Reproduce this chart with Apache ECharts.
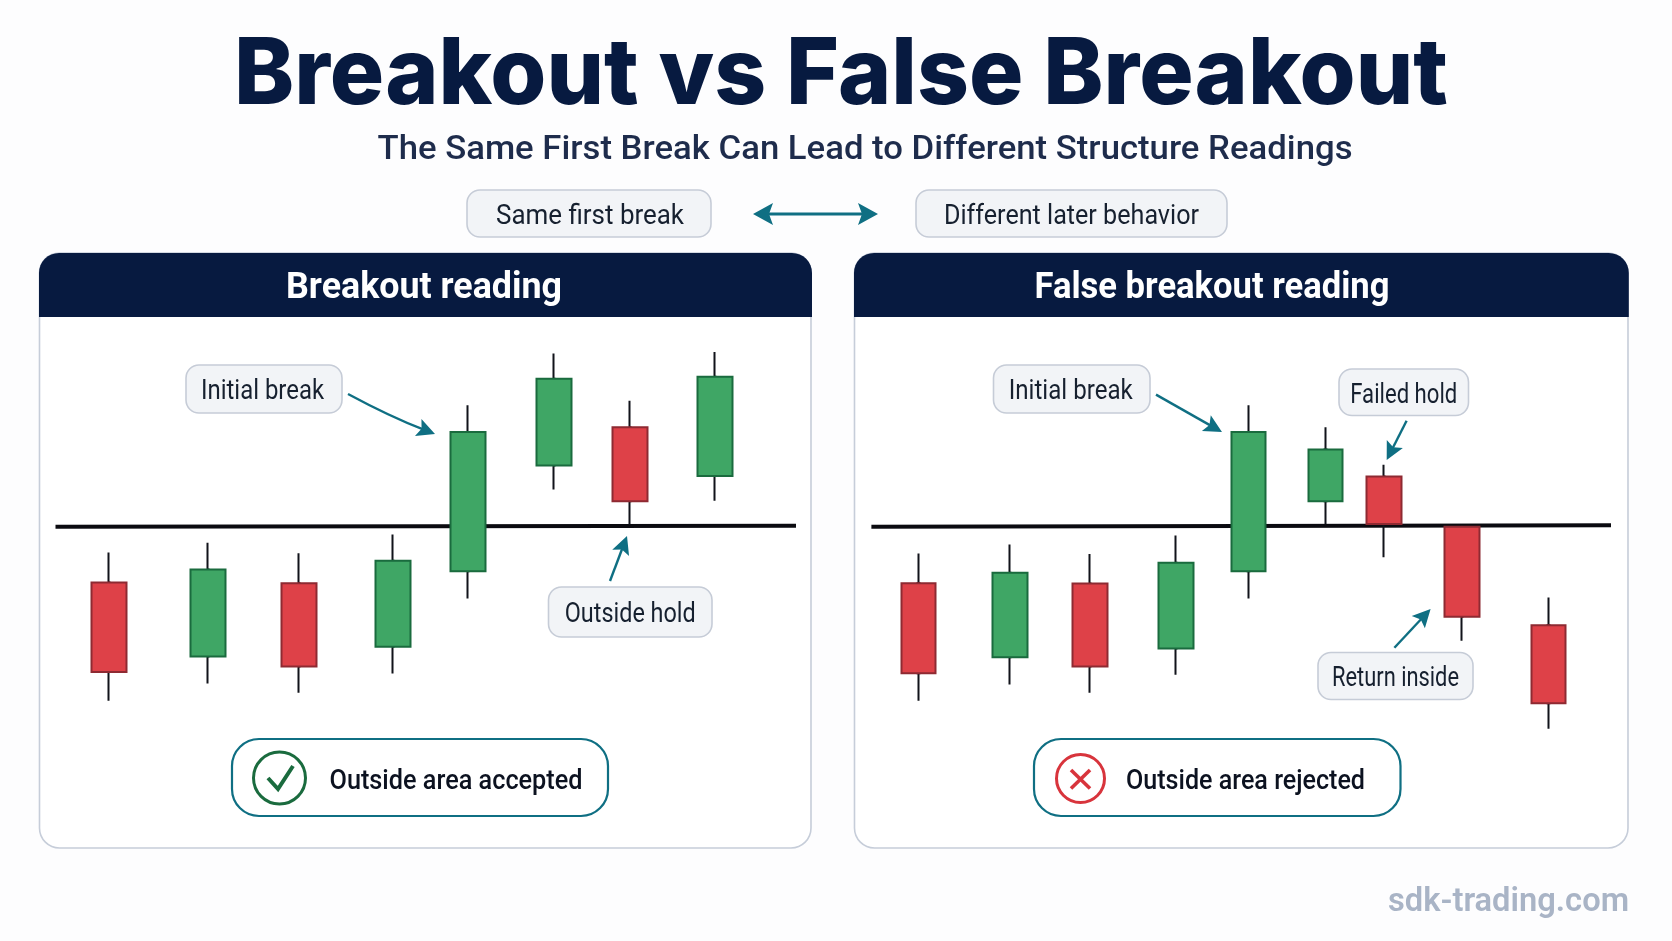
<!DOCTYPE html>
<html>
<head>
<meta charset="utf-8">
<style>html,body{margin:0;padding:0;background:#fdfdfe}#c{width:1672px;height:941px}</style>
<script src="https://cdn.jsdelivr.net/npm/echarts@6/dist/echarts.min.js"></script>
</head>
<body>
<div id="c"></div>
<script>
// ---- Data (time position on x, price on y) ----
const titleText = 'Breakout vs False Breakout';
const subtitleText = 'The Same First Break Can Lead to Different Structure Readings';
const compareLabels = ['Same first break', 'Different later behavior'];
const panelTitles = ['Breakout reading', 'False breakout reading'];
const leftCallouts = ['Initial break', 'Outside hold'];
const rightCallouts = ['Initial break', 'Failed hold', 'Return inside'];
const verdicts = ['Outside area accepted', 'Outside area rejected'];
const watermark = 'sdk-trading.com';

const leftTime  = [6.9, 16.8, 25.9, 35.3, 42.8, 51.4, 59.0, 67.5];
const leftOpen  = [39.4, 20.9, 39.2, 23.3, 42.2, 68.6, 78.2, 66.0];
const leftClose = [17.0, 42.6, 18.4, 44.8, 77.0, 90.3, 59.7, 90.8];
const leftLow   = [9.8, 14.1, 11.8, 16.6, 35.4, 62.6, 53.8, 59.8];
const leftHigh  = [46.9, 49.3, 46.7, 51.4, 83.7, 96.6, 84.8, 97.0];
const leftLevel = [[1.55, 53.3], [75.6, 53.55]];

const rightTime  = [6.64, 15.8, 23.8, 32.4, 39.65, 47.35, 53.2, 61.0, 69.65];
const rightOpen  = [39.2, 20.7, 39.1, 22.9, 42.2, 59.7, 65.9, 53.3, 28.7];
const rightClose = [16.7, 41.8, 18.4, 44.3, 77.0, 72.6, 54.0, 30.8, 9.2];
const rightLow   = [9.8, 13.9, 11.8, 16.3, 35.4, 54.0, 45.7, 24.8, 2.8];
const rightHigh  = [46.6, 48.9, 46.5, 51.1, 83.7, 78.2, 68.8, 53.3, 35.6];
const rightLevel = [[1.94, 53.3], [75.9, 53.7]];

// ---- Palette ----
const NAVY = '#071a40', TEAL = '#0f6f83', GREEN = '#3fa665', GREEN_D = '#1a6b3e',
      RED = '#de4148', RED_D = '#8e2a32', WICK = '#11131a', LINE = '#0b0b10',
      PILL = '#f2f4f7', PILL_B = '#c6ccd7', PANEL_B = '#c6cdd9';

const measure = document.createElement('canvas').getContext('2d');
function text(str, cx, cy, w, font, fill, z) {
  measure.font = font;
  const sx = w / measure.measureText(str).width;
  return { type: 'text', x: cx, y: cy, scaleX: sx, z: z || 5,
    style: { text: str, font, fill, align: 'center', verticalAlign: 'middle' }, silent: true };
}
function rect(x1, y1, x2, y2, r, fill, stroke, lw, z) {
  return { type: 'rect', z: z || 1, silent: true, shape: { x: x1, y: y1, width: x2 - x1, height: y2 - y1, r },
    style: { fill, stroke, lineWidth: lw } };
}
function head(tx, ty, fx, fy, len, hw, color) {
  const a = Math.atan2(ty - fy, tx - fx), c = Math.cos(a), s = Math.sin(a);
  return { type: 'polygon', z: 4, silent: true, style: { fill: color }, shape: { points: [
    [tx, ty],
    [tx - len * c - hw * s, ty - len * s + hw * c],
    [tx - len * c * 0.8, ty - len * s * 0.8],
    [tx - len * c + hw * s, ty - len * s - hw * c]] } };
}
function arrow(x1, y1, x2, y2, bend) {
  const mx = (x1 + x2) / 2, my = (y1 + y2) / 2, dx = x2 - x1, dy = y2 - y1, L = Math.hypot(dx, dy);
  const cx = mx - dy / L * (bend || 0), cy = my + dx / L * (bend || 0);
  const k = 12 / Math.hypot(x2 - cx, y2 - cy);
  return [
    { type: 'bezierCurve', z: 4, silent: true,
      shape: { x1, y1, x2: x2 - (x2 - cx) * k, y2: y2 - (y2 - cy) * k, cpx1: cx, cpy1: cy },
      style: { stroke: TEAL, lineWidth: 2.4, fill: 'none' } },
    head(x2, y2, cx, cy, 18, 9, TEAL)
  ];
}
function callout(str, x1, y1, x2, y2, tw, dx) {
  return [
    rect(x1, y1, x2, y2, 13, PILL, PILL_B, 1.6, 3),
    text(str, (x1 + x2) / 2 + (dx || 0), (y1 + y2) / 2 + 3.5, tw, '400 27px Roboto', '#16202f')
  ];
}

const bodyFont = '500 28px Roboto';
const decor = [
  text(titleText, 841, 76, 1214, '800 92px Inter', NAVY),
  text(subtitleText, 865, 150, 975, '500 34px Roboto', '#1e2c4c'),

  ...callout(compareLabels[0], 467, 190, 711, 237, 188, 1),
  ...callout(compareLabels[1], 916, 190, 1227, 237, 255),
  { type: 'line', z: 4, silent: true, shape: { x1: 765, y1: 214, x2: 866, y2: 214 }, style: { stroke: TEAL, lineWidth: 3.2 } },
  head(753, 214, 800, 214, 20, 11, TEAL),
  head(878, 214, 830, 214, 20, 11, TEAL),

  // left panel
  rect(39.5, 253, 811, 848, 20, '#ffffff', PANEL_B, 1.6),
  rect(39, 253, 812, 317, [20, 20, 0, 0], NAVY, null, 0, 2),
  text(panelTitles[0], 424, 289, 276, '700 36px Roboto', '#ffffff'),
  ...callout(leftCallouts[0], 186, 365, 342, 413, 123, -1.5),
  ...callout(leftCallouts[1], 548.5, 587, 712, 637, 131),
  ...arrow(348, 394, 435, 434, 3),
  ...arrow(610, 581, 627, 536),
  rect(232, 739, 608, 816, 27, '#ffffff', TEAL, 2.2, 3),
  { type: 'circle', z: 4, silent: true, shape: { cx: 279.5, cy: 778, r: 26 }, style: { fill: '#fff', stroke: GREEN_D, lineWidth: 3 } },
  { type: 'polyline', z: 4, silent: true, shape: { points: [[268, 778], [278, 789], [293, 766]] }, style: { stroke: GREEN_D, lineWidth: 4, fill: 'none' } },
  text(verdicts[0], 456, 782, 253, bodyFont, '#0c1220'),

  // right panel
  rect(854.5, 253, 1628, 848, 20, '#ffffff', PANEL_B, 1.6),
  rect(854, 253, 1628.8, 317, [20, 20, 0, 0], NAVY, null, 0, 2),
  text(panelTitles[1], 1212, 289, 355, '700 36px Roboto', '#ffffff'),
  ...callout(rightCallouts[0], 993.5, 365, 1150, 413, 124, -1),
  ...callout(rightCallouts[1], 1339, 369, 1468.5, 415.5, 107),
  ...callout(rightCallouts[2], 1318, 652.5, 1473, 699.5, 127),
  ...arrow(1156, 394.6, 1222, 432),
  ...arrow(1406.6, 420.7, 1386.7, 460),
  ...arrow(1394.4, 647.7, 1430.6, 609),
  rect(1034, 739, 1400.5, 816, 27, '#ffffff', TEAL, 2.2, 3),
  { type: 'circle', z: 4, silent: true, shape: { cx: 1080.5, cy: 778.5, r: 24 }, style: { fill: '#fff', stroke: '#d8343c', lineWidth: 3 } },
  { type: 'line', z: 4, silent: true, shape: { x1: 1071, y1: 770, x2: 1090, y2: 788.5 }, style: { stroke: '#d8343c', lineWidth: 3.6 } },
  { type: 'line', z: 4, silent: true, shape: { x1: 1090, y1: 770, x2: 1071, y2: 788.5 }, style: { stroke: '#d8343c', lineWidth: 3.6 } },
  text(verdicts[1], 1245.5, 782, 239, bodyFont, '#0c1220'),

  text(watermark, 1508.5, 903, 241, '600 33px Roboto', '#a9b4c6')
];

function panelSeries(idx, time, open, close, low, high, level) {
  const common = { type: 'candlestick', xAxisIndex: idx, yAxisIndex: idx, silent: true };
  return [
    { type: 'line', xAxisIndex: idx, yAxisIndex: idx, data: level, symbol: 'none', z: 2, silent: true,
      lineStyle: { color: LINE, width: 4 } },
    { ...common, z: 3, barWidth: 2,
      itemStyle: { color: WICK, color0: WICK, borderColor: WICK, borderColor0: WICK, borderWidth: 2 },
      data: time.map((t, i) => [t, open[i], close[i], low[i], high[i]]) },
    { ...common, z: 4, barWidth: 35,
      itemStyle: { color: GREEN, color0: RED, borderColor: GREEN_D, borderColor0: RED_D, borderWidth: 2 },
      data: time.map((t, i) => [t, open[i], close[i], Math.min(open[i], close[i]), Math.max(open[i], close[i])]) }
  ];
}
const hidden = { show: false, splitLine: { show: false }, scale: false };
const chart = echarts.init(document.getElementById('c'), null, { renderer: 'canvas' });
chart.setOption({
  animation: false,
  backgroundColor: '#fdfdfe',
  grid: [
    { left: 40, width: 770, top: 340, height: 400 },
    { left: 852, width: 770, top: 340, height: 400 }
  ],
  xAxis: [
    { ...hidden, type: 'value', gridIndex: 0, min: 0, max: 77 },
    { ...hidden, type: 'value', gridIndex: 1, min: 0, max: 77 }
  ],
  yAxis: [
    { ...hidden, type: 'value', gridIndex: 0, min: 0, max: 100 },
    { ...hidden, type: 'value', gridIndex: 1, min: 0, max: 100 }
  ],
  graphic: { elements: decor },
  series: [
    ...panelSeries(0, leftTime, leftOpen, leftClose, leftLow, leftHigh, leftLevel),
    ...panelSeries(1, rightTime, rightOpen, rightClose, rightLow, rightHigh, rightLevel)
  ]
});
</script>
</body>
</html>
